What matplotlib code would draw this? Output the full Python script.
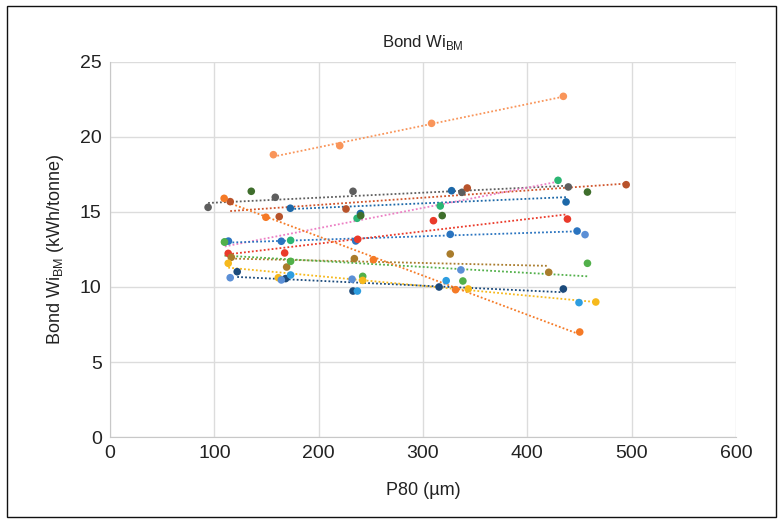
import matplotlib
matplotlib.use("Agg")
import matplotlib.pyplot as plt
from matplotlib.patches import Rectangle
import numpy as np

plt.rcParams['font.family'] = ['Liberation Sans', 'DejaVu Sans']

# P80 (um) and Bond Wi_BM (kWh/tonne) for each sample series
p80_a = [156.6, 220.2, 308.2, 434.5]
wi_a = [18.82, 19.42, 20.91, 22.71]

p80_b = [94.0, 158.4, 232.9, 337.3, 439.3]
wi_b = [15.31, 15.98, 16.38, 16.31, 16.67]

p80_c = [115.2, 162.2, 226.2, 342.4, 494.7]
wi_c = [15.69, 14.69, 15.20, 16.60, 16.82]

p80_d = [109.4, 149.4, 252.5, 331.2, 450.2]
wi_d = [15.91, 14.65, 11.82, 9.82, 7.00]

p80_e = [172.8, 240.0, 327.4, 437.1]
wi_e = [15.25, 14.90, 16.42, 15.67]

p80_f = [110.0, 173.1, 236.8, 316.5, 429.4]
wi_f = [13.00, 13.11, 14.58, 15.40, 17.11]

p80_g = [135.4, 240.3, 318.4, 457.6]
wi_g = [16.38, 14.76, 14.76, 16.33]

p80_h = [113.5, 164.2, 235.5, 326.1, 447.7]
wi_h = [13.06, 13.05, 13.07, 13.51, 13.73]

p80_i = [113.3, 167.4, 237.4, 310.0, 438.4]
wi_i = [12.24, 12.27, 13.18, 14.42, 14.53]

p80_j = [116.2, 169.3, 234.2, 326.1, 420.5]
wi_j = [11.98, 11.33, 11.89, 12.20, 10.98]

p80_k = [109.7, 173.1, 242.2, 338.2, 457.6]
wi_k = [13.00, 11.71, 10.71, 10.40, 11.58]

p80_l = [113.3, 161.3, 242.2, 343.3, 465.6]
wi_l = [11.58, 10.62, 10.44, 9.87, 9.00]

p80_m = [121.9, 168.3, 232.9, 315.4, 434.5]
wi_m = [11.02, 10.56, 9.73, 10.00, 9.87]

p80_n = [115.2, 164.2, 232.0, 336.3, 455.3]
wi_n = [10.62, 10.47, 10.52, 11.14, 13.49]

p80_o = [173.1, 237.1, 322.2, 449.5]
wi_o = [10.80, 9.73, 10.42, 8.96]

# (x, y, marker colour, trendline colour or None)
series = [
    (p80_b, wi_b, '#5e5e5e', '#5e5e5e'),
    (p80_c, wi_c, '#b8532b', '#d0542a'),
    (p80_e, wi_e, '#1d68a8', '#1d68a8'),
    (p80_f, wi_f, '#2bb673', '#ec7fc4'),
    (p80_g, wi_g, '#3f6e2c', None),
    (p80_h, wi_h, '#2a74c0', '#2a74c0'),
    (p80_i, wi_i, '#ea3a2a', '#ea3a2a'),
    (p80_j, wi_j, '#a97c2c', '#a97c2c'),
    (p80_k, wi_k, '#52b04a', '#52b04a'),
    (p80_l, wi_l, '#f6b91d', '#f6b91d'),
    (p80_m, wi_m, '#1b4a7b', '#1b4a7b'),
    (p80_n, wi_n, '#5b8fd6', None),
    (p80_o, wi_o, '#2d9de0', None),
    (p80_d, wi_d, '#f57a26', '#f57a26'),
    (p80_a, wi_a, '#f9955a', '#f9955a'),
]

fig = plt.figure(figsize=(7.83, 5.2), dpi=100)
ax = fig.add_axes([0.1405, 0.1596, 0.7995, 0.7212])

for x, y, mc, lc in series:
    x = np.asarray(x)
    y = np.asarray(y)
    if lc is not None:
        k, b = np.polyfit(x, y, 1)
        xs = np.array([x.min(), x.max()])
        ax.plot(xs, k * xs + b, linestyle=(0, (1, 1.2)), color=lc, lw=1.3, zorder=2)
    ax.scatter(x, y, s=30, color=mc, edgecolors='none', zorder=3)

ax.set_xlim(0, 600)
ax.set_ylim(0, 25)
ax.set_xticks(range(0, 601, 100))
ax.set_yticks(range(0, 26, 5))
ax.grid(True, color='#dcdcdc', lw=1)
ax.set_axisbelow(True)
for side in ['top', 'right']:
    ax.spines[side].set_visible(False)
for side in ['left', 'bottom']:
    ax.spines[side].set_color('#c8c8c8')
ax.tick_params(length=0, labelsize=14, colors='#222222', pad=6)

ax.set_xlabel('P80 (µm)', fontsize=13, color='#222222', labelpad=14)
ax.set_ylabel(r'Bond Wi$_{\mathregular{BM}}$ (kWh/tonne)', fontsize=13,
              color='#222222', labelpad=10)
ax.set_title(r'Bond Wi$_{\mathregular{BM}}$', fontsize=12, color='#222222', pad=11)

# thin frame around the whole figure
fig.patches.append(Rectangle((0.009, 0.006), 0.982, 0.983, transform=fig.transFigure,
                             fill=False, edgecolor='#111111', lw=1))

fig.savefig('out.png', dpi=100)
